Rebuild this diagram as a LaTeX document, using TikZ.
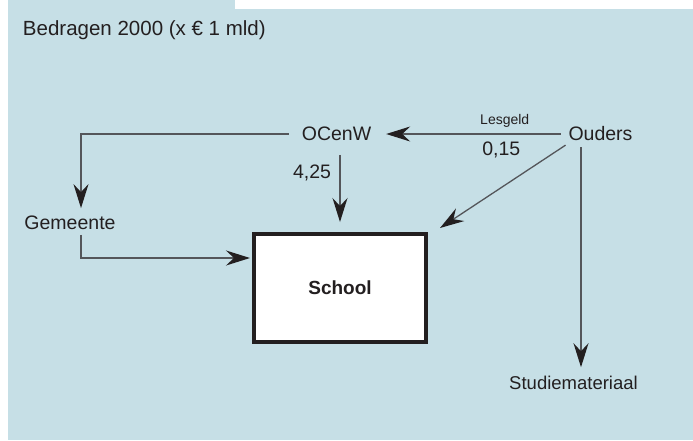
\documentclass[tikz,border=0pt]{standalone}
\usepackage{fontspec}
\setmainfont{Liberation Sans}
\usetikzlibrary{arrows.meta,positioning}
\definecolor{bgblue}{RGB}{198,223,230}
\definecolor{ink}{RGB}{35,31,32}
\definecolor{wire}{RGB}{84,86,90}

\begin{document}
\begin{tikzpicture}[
    x=1pt,
    y=1pt,
    lbl/.style={
        inner sep=0pt,
        outer sep=0pt,
        text=ink,
        font=\fontsize{19.5}{23}\selectfont
      },
    small/.style={
        inner sep=0pt,
        text=ink,
        font=\fontsize{14}{16}\selectfont
      },
    box/.style={
        rectangle,
        draw=ink,
        fill=white,
        line width=4pt,
        minimum width=172pt,
        minimum height=108pt,
        text=ink,
        font=\fontsize{19}{22}\selectfont\bfseries
      },
    arrow/.style={-{Stealth[length=24pt,width=15pt,inset=8pt,color=ink]},line width=1.3pt,draw=wire}
    ]

    \useasboundingbox (0,0) rectangle (693,-440);
    \fill[bgblue] (8,0) rectangle (693,-440);
    \fill[white] (235,0) rectangle (693,-9);

    \node[lbl,anchor=base west,font=\fontsize{20.5}{24}\selectfont] (title) at (23,-35) {Bedragen 2000 (x € 1 mld)};

    \node[lbl] (ocenw) at (336.5,-134) {OCenW};
    \node[lbl] (ouders) at (600.5,-134) {Ouders};
    \node[lbl] (gemeente) at (70,-223) {Gemeente};
    \node[lbl,font=\fontsize{18.5}{22}\selectfont] (studie) at (573.5,-383) {Studiemateriaal};
    \node[box] (school) at (340,-288) {School};

    \draw[arrow] ([xshift=-8pt]ouders.west) -- ([xshift=15pt]ocenw.east)
      node[small,pos=0.32,above=6pt] (lesgeld) {Lesgeld}
      node[lbl,pos=0.34,below=8pt] (bedrag1) {0,15};
    \draw[arrow] ([yshift=-14pt]ocenw.south -| school.north) -- ([yshift=10pt]school.north)
      node[lbl,pos=0.27,left=9pt] (bedrag2) {4,25};
    \draw[arrow] ([xshift=-13pt]ocenw.west) -| ([xshift=11pt,yshift=8pt]gemeente.north);
    \draw[arrow] ([xshift=11pt,yshift=-5pt]gemeente.south) |- ([xshift=-2pt,yshift=30pt]school.west);
    \draw[arrow] ([shift={(-3pt,-4pt)}]ouders.south west) -- ([shift={(12pt,4pt)}]school.north east);
    \draw[arrow] ([xshift=-19.5pt,yshift=-6pt]ouders.south) -- ([xshift=7.5pt,yshift=9pt]studie.north);

  \end{tikzpicture}
\end{document}
